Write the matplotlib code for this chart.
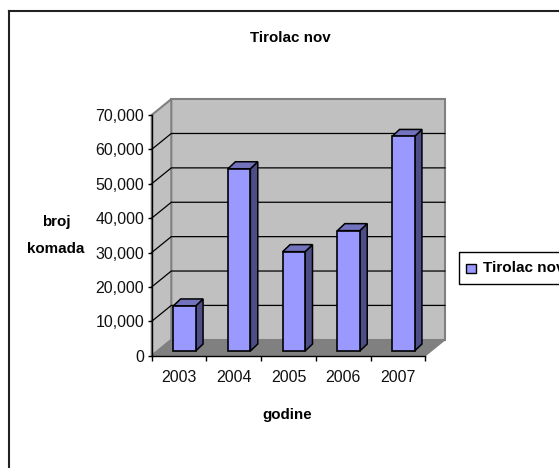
import matplotlib
matplotlib.use('Agg')
import matplotlib.pyplot as plt
from matplotlib.patches import Rectangle

plt.rcParams['font.family'] = ['Liberation Sans', 'DejaVu Sans']

years = ['2003', '2004', '2005', '2006', '2007']
values = [13100, 53000, 28900, 35000, 62400]
yticks = [0, 10000, 20000, 30000, 40000, 50000, 60000, 70000]
series_name = 'Tirolac nov'

W, H = 559, 468
x0, x1 = 151.7, 425.3
y0, y1 = 355.7, 115.0

fig = plt.figure(figsize=(W / 100, H / 100), dpi=100)
ax = fig.add_axes([x0 / W, 1 - y0 / H, (x1 - x0) / W, (y0 - y1) / H])
ax.set_xlim(0, len(years))
ax.set_ylim(0, 70000)
ax.patch.set_visible(False)

# pixel -> data sizes for the fake 3d depth
px = len(years) / (x1 - x0)
py = 70000 / (y0 - y1)
dx, dy = 19.6 * px, 15.9 * py

# walls and floor
wall = '#c0c0c0'
edge = '#808080'
ax.fill([dx, len(years) + dx, len(years) + dx, dx], [dy, dy, 70000 + dy, 70000 + dy],
        fc=wall, ec=edge, lw=1.5, clip_on=False, zorder=1)
ax.fill([0, dx, dx, 0], [0, dy, 70000 + dy, 70000], fc=wall, ec=edge, lw=1.5, clip_on=False, zorder=1)
ax.fill([0, len(years), len(years) + dx, dx], [0, 0, dy, dy], fc='#808080', ec='#808080', lw=1,
        clip_on=False, zorder=1)

# gridlines on both walls
for t in yticks[1:-1]:
    ax.plot([0, dx, len(years) + dx], [t, t + dy, t + dy], color='black', lw=0.9, clip_on=False, zorder=2)

# bars
bar_w = 22.4 * px
sx, sy = 7.4 * px, 7.0 * py
ox, oy = 5.4 * px, 4.7 * py
for i, v in enumerate(values):
    left = i + 0.5 - bar_w / 2 + ox
    right = left + bar_w
    top = v + oy
    ax.fill([right, right + sx, right + sx, right], [oy, oy + sy, top + sy, top],
            fc='#4d4d87', ec='black', lw=1.1, clip_on=False, zorder=3)
    ax.fill([left, left + sx, right + sx, right], [top, top + sy, top + sy, top],
            fc='#7272bd', ec='black', lw=1.1, clip_on=False, zorder=3)
    ax.bar(i + 0.5 + ox, v, bar_w, bottom=oy, color='#9999ff', edgecolor='black', lw=1.2, zorder=4, clip_on=False)

# axes
for s in ['top', 'right']:
    ax.spines[s].set_visible(False)
for s in ['left', 'bottom']:
    ax.spines[s].set_linewidth(1.0)
    ax.spines[s].set_zorder(5)
ax.set_yticks(yticks)
ax.set_yticklabels([f'{t:,}' for t in yticks], fontsize=11.5, color='#111111')
ax.set_xticks(range(len(years) + 1))
ax.set_xticklabels([''] * (len(years) + 1))
for i, y in enumerate(years):
    ax.text(i + 0.5, -6300, y, ha='center', va='center', fontsize=11.5, color='#111111', clip_on=False)
ax.tick_params(axis='y', length=3, width=1, pad=2.5)
ax.tick_params(axis='x', length=3.6, width=1, direction='out')

# chart text, placed in figure pixels
def ftext(x, y, s, size=10.9):
    fig.text(x / W, 1 - y / H, s, ha='center', va='center', fontweight='bold', fontsize=size)

ftext(290, 38, series_name)
ftext(287, 414.5, 'godine')
ftext(56, 222, 'broj')
ftext(56, 249, 'komada')

# chart border, only top and left show in the crop
fig.add_artist(plt.Line2D([9 / W, 9 / W], [0, 1 - 11 / H], color='#222222', lw=1.5))
fig.add_artist(plt.Line2D([9 / W, 1], [1 - 11 / H, 1 - 11 / H], color='#222222', lw=1.5))

# legend box runs off the right edge
fig.add_artist(plt.Line2D([1, 459 / W, 459 / W, 1],
                          [1 - 252 / H, 1 - 252 / H, 1 - 284 / H, 1 - 284 / H], color='black', lw=1))
fig.add_artist(Rectangle((466 / W, 1 - 273 / H), 9.5 / W, 9.5 / H, transform=fig.transFigure,
                         fc='#9999ff', ec='black', lw=1))
fig.text(483 / W, 1 - 268.5 / H, series_name, ha='left', va='center', fontweight='bold', fontsize=11)

fig.savefig('out.png', dpi=100)
